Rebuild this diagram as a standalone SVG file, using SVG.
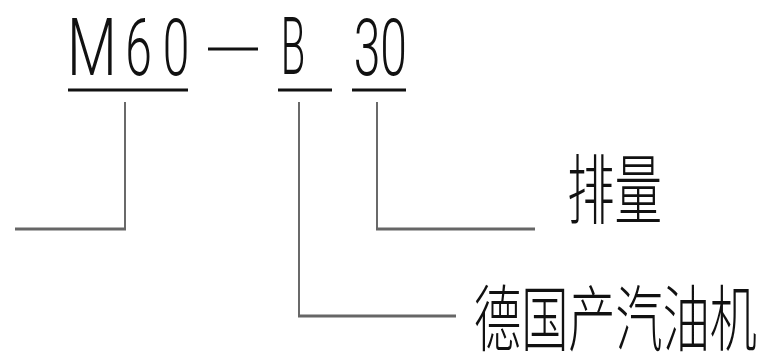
<svg xmlns="http://www.w3.org/2000/svg" width="758" height="356" viewBox="0 0 758 356">
<style>
.lat{font-family:Roboto,"Liberation Sans",Arial,sans-serif;font-weight:300;font-size:80px;fill:#111;text-anchor:middle}
.cjk{font-family:"Noto Sans CJK SC","Noto Sans CJK TC",sans-serif;font-weight:300;font-size:76px;fill:#111}
.ul{stroke:#111;stroke-width:3;fill:none}
.v{stroke:#444;stroke-width:1.6;fill:none}
.h{stroke:#666;stroke-width:3;fill:none}
</style>
<rect width="758" height="356" fill="#fff"/>
<g id="code">
<text class="lat" transform="translate(92,75) scale(0.72,1)">M</text>
<text class="lat" transform="translate(138.5,75) scale(0.6,1)">6</text>
<text class="lat" transform="translate(176,75) scale(0.6,1)">0</text>
<line x1="208" y1="49" x2="258" y2="49" stroke="#111" stroke-width="3"/>
<text class="lat" transform="translate(293,74) scale(0.5,1)">B</text>
<text class="lat" transform="translate(367,75) scale(0.6,1)">3</text>
<text class="lat" transform="translate(393.5,75) scale(0.6,1)">0</text>
<line class="ul" x1="68" y1="90" x2="188" y2="90"/>
<line class="ul" x1="278" y1="90" x2="332" y2="90"/>
<line class="ul" x1="352" y1="90" x2="406" y2="90"/>
</g>
<g id="connectors">
<polyline class="v" points="125,102 125,229"/>
<line class="h" x1="15" y1="229" x2="126" y2="229"/>
<polyline class="v" points="299,102 299,316"/>
<line class="h" x1="298" y1="316" x2="456" y2="316"/>
<polyline class="v" points="377,102 377,229"/>
<line class="h" x1="376" y1="229" x2="535" y2="229"/>
</g>
<g id="label-displacement">
<text class="cjk" x="567" y="218" textLength="95" lengthAdjust="spacingAndGlyphs">排量</text>
</g>
<g id="label-engine">
<text class="cjk" x="474" y="345" style="font-size:72px" textLength="283" lengthAdjust="spacingAndGlyphs">德国产汽油机</text>
</g>
</svg>
